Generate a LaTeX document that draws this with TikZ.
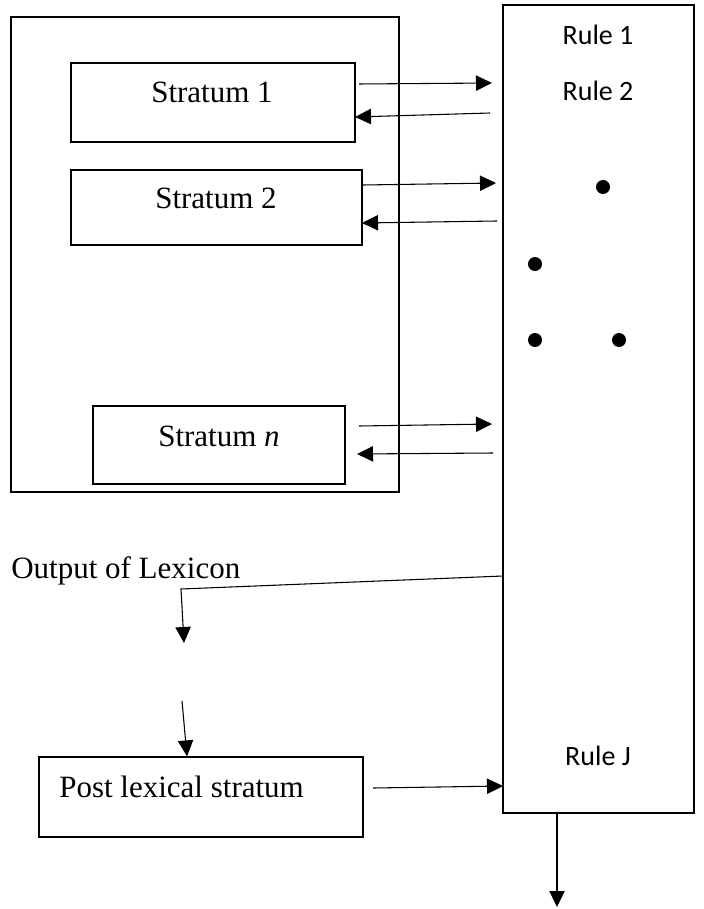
\documentclass[tikz,border=0pt]{standalone}
\usepackage{fontspec}
\setmainfont{Liberation Serif}
\newfontfamily\calfont{Carlito}
\usetikzlibrary{arrows.meta}
\begin{document}
\begin{tikzpicture}[x=0.75pt,y=-0.75pt,
  box/.style={draw=black,line width=0.9pt,rectangle,inner sep=0pt},
  serif/.style={font=\fontsize{23.25pt}{28pt}\selectfont,inner sep=0pt},
  cal/.style={font=\calfont\fontsize{21pt}{25pt}\selectfont,inner sep=0pt},
  arr/.style={line width=0.8pt,-{Triangle[length=12pt,width=11.5pt]}},
  dot/.style={circle,fill=black,minimum size=10.5pt,inner sep=0pt}]
\useasboundingbox (0,0) rectangle (703,909);
% outer lexicon box
\node[box,minimum width=291pt,minimum height=356.25pt] (lex) at (205,254.5) {};
% rules box
\node[box,minimum width=143.25pt,minimum height=606pt] (rules) at (598.5,409) {};
% strata boxes
\node[box,minimum width=213pt,minimum height=59.25pt] (s1) at (213,102.5) {};
\node[box,minimum width=218.25pt,minimum height=56.25pt] (s2) at (216.5,207.5) {};
\node[box,minimum width=189pt,minimum height=58.5pt] (sn) at (219,445) {};
\node[box,minimum width=243pt,minimum height=60pt] (post) at (201,797) {};
% texts
\node[serif,anchor=base] (s1t) at (212,103) {Stratum 1};
\node[serif,anchor=base] (s2t) at (216,209) {Stratum 2};
\node[serif,anchor=base] (snt) at (219,446) {Stratum \textit{n}};
\node[serif,anchor=base west] (postt) at (59,797) {Post lexical stratum};
\node[serif,anchor=base west] (out) at (11,578) {Output of Lexicon};
\node[cal,anchor=base] (r1) at (598,45) {Rule 1};
\node[cal,anchor=base] (r2) at (598,101) {Rule 2};
\node[cal,anchor=base] (rj) at (598,765) {Rule J};
% dots
\node[dot] (d1) at (603,187) {};
\node[dot] (d2) at (535,264) {};
\node[dot] (d3) at (535,340) {};
\node[dot] (d4) at (619,340) {};
% arrow coordinates
\coordinate (a1s) at (359,84);  \coordinate (a1e) at (492,83);
\coordinate (b1s) at (490,113); \coordinate (b1e) at (355,117);
\coordinate (a2s) at (363,185); \coordinate (a2e) at (496,183);
\coordinate (b2s) at (497,221); \coordinate (b2e) at (362,223);
\coordinate (ans) at (359,426); \coordinate (ane) at (492,424);
\coordinate (bns) at (493,453); \coordinate (bne) at (357,454);
\coordinate (o1) at (503,576); \coordinate (o2) at (181,589); \coordinate (o3) at (184,643);
\coordinate (p1) at (182,701);
\coordinate (q1) at (373,788); \coordinate (q2) at (503,786);
\coordinate (e1) at (557,907);
\draw[arr] (a1s) -- (a1e);
\draw[arr] (b1s) -- (b1e);
\draw[arr] (a2s) -- (a2e);
\draw[arr] (b2s) -- (b2e);
\draw[arr] (ans) -- (ane);
\draw[arr] (bns) -- (bne);
\draw[arr] (o1) -- (o2) -- (o3);
\draw[arr] (p1) -- (post.north -| 187,0);
\draw[arr] (q1) -- (q2);
\draw[arr] (rules.south -| 557,0) -- (e1);
\end{tikzpicture}
\end{document}
